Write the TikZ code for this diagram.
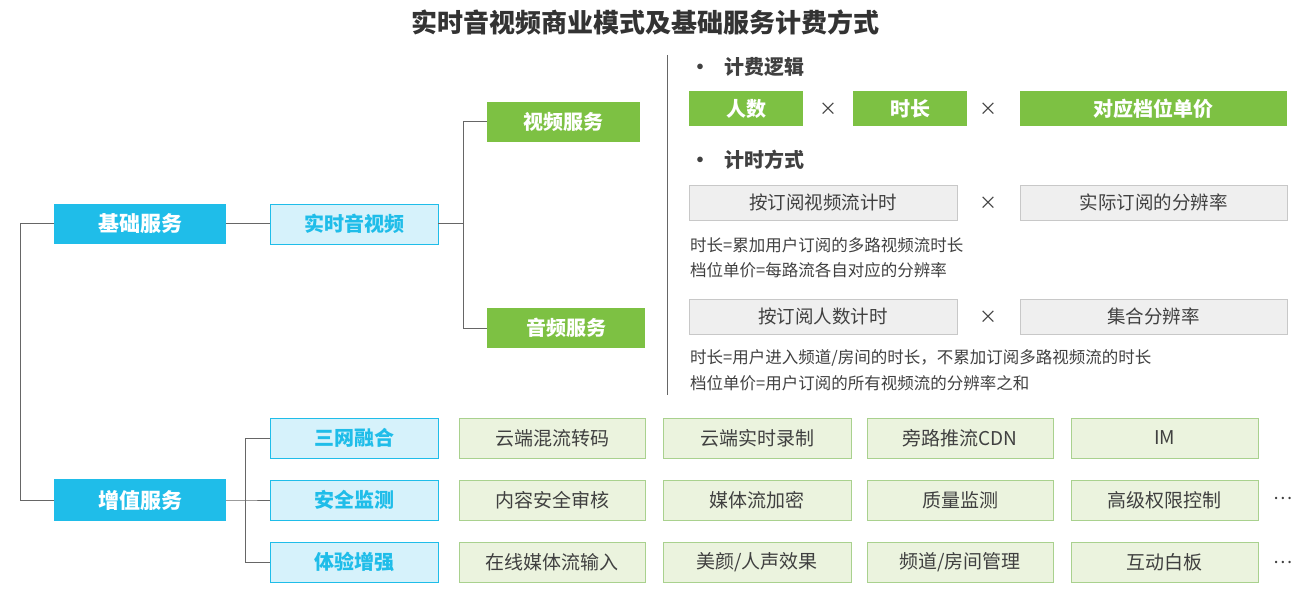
\documentclass[tikz,border=0pt]{standalone}
\usepackage{fontspec}
\setmainfont{Noto Sans CJK SC}
\definecolor{cy}{HTML}{1FBDE9}
\definecolor{lcy}{HTML}{D6F2FB}
\definecolor{gr}{HTML}{7DC143}
\definecolor{lgr}{HTML}{EBF3DE}
\definecolor{gb}{HTML}{A9D18E}
\definecolor{gy}{HTML}{EFEFEF}
\definecolor{gyb}{HTML}{C8C8C8}
\definecolor{tx}{HTML}{404040}
\definecolor{ln}{HTML}{666666}
\begin{document}
\begin{tikzpicture}[x=1pt,y=-1pt,
 box/.style={anchor=north west,inner sep=0pt,outer sep=0pt},
 cyb/.style={box,fill=cy,text=white,font=\bfseries\fontsize{21}{21}\selectfont},
 lcb/.style={box,fill=lcy,draw=cy,line width=0.8pt,text=cy,font=\bfseries\fontsize{20}{20}\selectfont},
 grb/.style={box,fill=gr,text=white,font=\bfseries\fontsize{20}{20}\selectfont},
 gyx/.style={box,fill=gy,draw=gyb,line width=0.8pt,text=tx,font=\fontsize{18.5}{18.5}\selectfont},
 lgb/.style={box,fill=lgr,draw=gb,line width=1pt,text=tx,font=\fontsize{19}{19}\selectfont},
 con/.style={draw=ln,line width=1pt},
 note/.style={anchor=west,text=tx,font=\fontsize{16.5}{16.5}\selectfont,inner sep=0pt},
 hd/.style={anchor=west,text=tx,font=\bfseries\fontsize{20}{20}\selectfont,inner sep=0pt},
 mul/.style={text=tx,font=\fontsize{18}{18}\selectfont}]
\useasboundingbox (0,0) rectangle (1312,596);
\node[font=\bfseries\fontsize{26}{26}\selectfont,text=tx!80!black] (title) at (645,22) {实时音视频商业模式及基础服务计费方式};
% left tree
\node[cyb,minimum width=172pt,minimum height=40pt] (jc) at (54,204) {基础服务};
\node[lcb,minimum width=168pt,minimum height=40pt] (ss) at (270,204) {实时音视频};
\node[grb,minimum width=153pt,minimum height=40pt] (sp) at (487,102) {视频服务};
\node[grb,minimum width=158pt,minimum height=40pt] (yp) at (487,308) {音频服务};
\node[cyb,minimum width=172pt,minimum height=42pt] (zz) at (54,479) {增值服务};
\node[lcb,minimum width=168pt,minimum height=40pt] (s1) at (270,418) {三网融合};
\node[lcb,minimum width=168pt,minimum height=40pt] (s2) at (270,480) {安全监测};
\node[lcb,minimum width=168pt,minimum height=40pt] (s3) at (270,542) {体验增强};
\coordinate (L) at (20,224);
\draw[con] (jc.west) -- (L) |- (zz.west);
\draw[con] (jc.east) -- (ss.west);
\coordinate (J1) at (463,224);
\draw[con] (ss.east) -- (J1);
\draw[con] (J1) |- (sp.west);
\draw[con] (J1) |- (yp.west);
\coordinate (J2) at (245,500);
\draw[con] (zz.east) -- (J2) -- (s2.west);
\draw[con] (J2) |- (s1.west);
\draw[con] (J2) |- (s3.west);
% grid
\foreach \r/\y/\a/\b/\c/\d in {1/418/云端混流转码/云端实时录制/旁路推流CDN/IM, 2/480/内容安全审核/媒体流加密/质量监测/高级权限控制, 3/542/在线媒体流输入/美颜\slash 人声效果/频道\slash 房间管理/互动白板}{
 \node[lgb,minimum width=186pt,minimum height=40pt] (g\r a) at (459,\y) {\a};
 \node[lgb,minimum width=188pt,minimum height=40pt] (g\r b) at (663,\y) {\b};
 \node[lgb,minimum width=186pt,minimum height=40pt] (g\r c) at (867,\y) {\c};
 \node[lgb,minimum width=187pt,minimum height=40pt] (g\r d) at (1071,\y) {\d};
}
\node[mul] (d2) at (1283,498) {…};
\node[mul] (d3) at (1283,562) {…};
% right panel
\coordinate (V1) at (667,55); \coordinate (V2) at (667,395);
\draw[draw=ln,line width=1pt] (V1) -- (V2);
\node[hd] (h1) at (690,67) {•\hspace{14pt}计费逻辑};
\node[grb,minimum width=114pt,minimum height=35pt] (rs) at (689,91) {人数};
\node[mul] (x1) at (828,109) {×};
\node[grb,minimum width=114pt,minimum height=35pt] (sc) at (853,91) {时长};
\node[mul] (x2) at (988,109) {×};
\node[grb,minimum width=267pt,minimum height=35pt] (dj) at (1020,91) {对应档位单价};
\node[hd] (h2) at (690,160) {•\hspace{14pt}计时方式};
\node[gyx,minimum width=268pt,minimum height=35pt] (a1) at (689,185) {按订阅视频流计时};
\node[mul] (x3) at (988,203) {×};
\node[gyx,minimum width=267pt,minimum height=35pt] (a2) at (1020,185) {实际订阅的分辨率};
\node[note] (n1) at (690,245) {时长=累加用户订阅的多路视频流时长};
\node[note] (n2) at (690,270) {档位单价=每路流各自对应的分辨率};
\node[gyx,minimum width=268pt,minimum height=35pt] (b1) at (689,299) {按订阅人数计时};
\node[mul] (x4) at (988,317) {×};
\node[gyx,minimum width=267pt,minimum height=35pt] (b2) at (1020,299) {集合分辨率};
\node[note] (n3) at (690,358) {时长=用户进入频道/房间的时长，不累加订阅多路视频流的时长};
\node[note] (n4) at (690,383) {档位单价=用户订阅的所有视频流的分辨率之和};
\end{tikzpicture}
\end{document}
